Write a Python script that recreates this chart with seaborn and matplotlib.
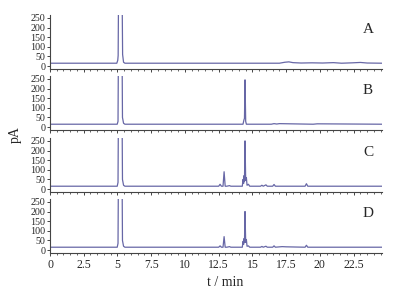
import numpy as np
import pandas as pd
import seaborn as sns
from matplotlib import pyplot as plt
from matplotlib.ticker import MultipleLocator

sns.set_style("ticks")
plt.rcParams['font.family'] = ['Liberation Serif', 'DejaVu Serif']

# retention time (min) / signal (pA)
time_A = [0, 4.95, 5.02, 5.05, 5.08, 5.34, 5.38, 5.45, 5.55, 17.0, 17.4, 17.7, 18.0,
          18.6, 19.4, 20.2, 21.0, 21.6, 22.4, 23.0, 23.5, 24.6]
pA_A = [15, 15, 30, 55, 400, 400, 60, 20, 15, 15, 20, 22, 18,
        16, 17, 16, 18, 15, 17, 19, 16, 15]

time_B = [0, 4.98, 5.04, 5.07, 5.34, 5.37, 5.45, 5.55, 14.3, 14.38, 14.41, 14.45, 14.5,
          14.55, 16.4, 16.6, 16.8, 17.0, 19.5, 19.8, 24.6]
pA_B = [15, 15, 30, 400, 400, 50, 20, 15, 15, 40, 45, 245, 30,
        15, 15, 18, 16, 18, 15, 17, 15]

time_C = [0, 4.98, 5.04, 5.07, 5.34, 5.37, 5.45, 5.55, 12.5, 12.6, 12.7, 12.82, 12.9,
          12.98, 13.1, 13.3, 13.4, 14.25, 14.3, 14.35, 14.38, 14.41, 14.45, 14.5, 14.55,
          14.6, 14.7, 14.8, 15.6, 15.7, 15.8, 16.0, 16.1, 16.5, 16.6, 16.7, 18.9, 19.0,
          19.1, 24.6]
pA_C = [15, 15, 35, 400, 400, 50, 20, 15, 15, 25, 15, 15, 90,
        15, 15, 18, 15, 15, 50, 30, 70, 40, 250, 45, 60,
        20, 25, 15, 15, 20, 15, 22, 15, 15, 24, 15, 15, 28,
        15, 15]

time_D = [0, 4.98, 5.04, 5.07, 5.34, 5.37, 5.45, 5.55, 12.5, 12.6, 12.7, 12.82, 12.9,
          12.98, 13.1, 13.3, 13.4, 14.25, 14.3, 14.35, 14.38, 14.41, 14.45, 14.5, 14.55,
          14.6, 14.7, 14.8, 15.6, 15.7, 15.8, 16.0, 16.1, 16.5, 16.6, 16.7, 17.2, 17.5,
          18.9, 19.0, 19.1, 24.6]
pA_D = [15, 15, 35, 400, 400, 50, 20, 15, 15, 22, 15, 15, 70,
        15, 15, 18, 15, 15, 45, 30, 60, 40, 200, 40, 55,
        20, 22, 15, 15, 19, 15, 20, 15, 15, 22, 15, 18, 17,
        15, 25, 15, 15]

labels = ["A", "B", "C", "D"]
traces = [(time_A, pA_A), (time_B, pA_B), (time_C, pA_C), (time_D, pA_D)]
x_ticks = [0, 2.5, 5, 7.5, 10, 12.5, 15, 17.5, 20, 22.5]
x_ticklabels = ["0", "2.5", "5", "7.5", "10", "12.5", "15", "17.5", "20", "22.5"]
y_ticks = [0, 50, 100, 150, 200, 250]

fig = plt.figure(figsize=(3.94, 2.91), dpi=100)
color = "#6767a6"
bottoms = [69, 130, 192, 253]

for lab, (t, y), bot in zip(labels, traces, bottoms):
    ax = fig.add_axes([50 / 394, 1 - bot / 291, 332 / 394, 54 / 291])
    df = pd.DataFrame({"t": t, "pA": y})
    sns.lineplot(data=df, x="t", y="pA", ax=ax, color=color, linewidth=0.9)
    ax.set_xlim(0, 24.6)
    ax.set_ylim(-15, 265)
    ax.set_yticks(y_ticks)
    ax.set_yticklabels([str(v) for v in y_ticks])
    ax.set_xticks(x_ticks)
    ax.xaxis.set_minor_locator(MultipleLocator(0.5))
    ax.tick_params(axis="x", which="major", labelsize=8.5, length=2.5, width=0.6, pad=1.5)
    ax.tick_params(axis="y", which="major", labelsize=7.2, length=2.5, width=0.6, pad=0.8)
    ax.tick_params(axis="x", which="minor", length=1.5, width=0.5)
    ax.set_xlabel("")
    ax.set_ylabel("")
    for s in ["top", "right"]:
        ax.spines[s].set_visible(False)
    for s in ["left", "bottom"]:
        ax.spines[s].set_linewidth(0.8)
        ax.spines[s].set_color("#444444")
    ax.text(0.958, 0.74, lab, transform=ax.transAxes, fontsize=11, ha="center", va="center")
    if lab != "D":
        ax.set_xticklabels([])
    else:
        ax.set_xticklabels(x_ticklabels)

fig.text(15 / 394, 1 - 135 / 291, "pA", rotation=90, ha="center", va="center", fontsize=10)
fig.text(225 / 394, 1 - 283 / 291, "t / min", ha="center", va="center", fontsize=10)

fig.savefig("out.png", dpi=100)
